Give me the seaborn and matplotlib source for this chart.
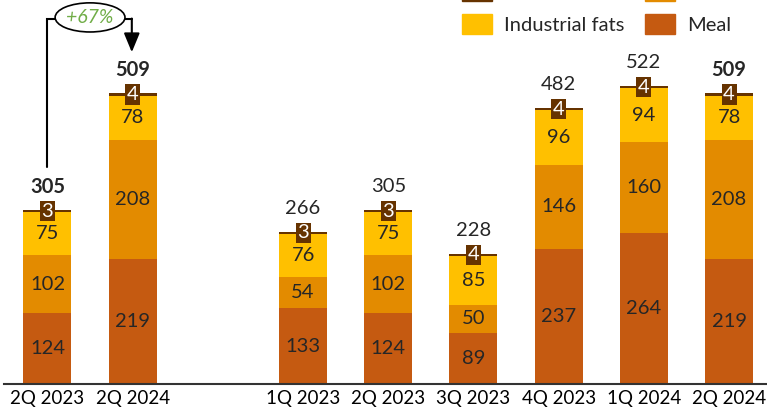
import numpy as np
import matplotlib
matplotlib.use('Agg')
import matplotlib.pyplot as plt
from matplotlib.patches import Ellipse, Patch
import seaborn as sns

# data
periods = ['2Q 2023', '2Q 2024', '1Q 2023', '2Q 2023', '3Q 2023', '4Q 2023', '1Q 2024', '2Q 2024']
positions = [0, 1, 3, 4, 5, 6, 7, 8]
meal = [124, 219, 133, 124, 89, 237, 264, 219]
oil = [102, 208, 54, 102, 50, 146, 160, 208]
industrial_fats = [75, 78, 76, 75, 85, 96, 94, 78]
other = [3, 4, 3, 3, 4, 4, 4, 4]
totals = [305, 509, 266, 305, 228, 482, 522, 509]
bold_totals = [True, True, False, False, False, False, False, True]
growth_label = '+67%'

c_meal = '#C55A11'
c_oil = '#E38B00'
c_fats = '#FFC000'
c_other = '#663300'

sns.set_style('white')
plt.rcParams['font.family'] = ['Lato', 'DejaVu Sans']
fs = 14.5

fig = plt.figure(figsize=(7.67, 4.11), dpi=100)
ax = fig.add_axes([4 / 767, 27 / 411, 763 / 767, 384 / 411])

lvl1 = np.array(meal)
lvl2 = lvl1 + np.array(oil)
lvl3 = lvl2 + np.array(industrial_fats)
lvl4 = lvl3 + np.array(other)

bw = 0.563
# stacked bars drawn as overlapping cumulative bars, tallest first
for vals, col in [(lvl4, c_other), (lvl3, c_fats), (lvl2, c_oil), (lvl1, c_meal)]:
    sns.barplot(x=positions, y=vals, native_scale=True, width=bw, color=col,
                saturation=1, linewidth=0, errorbar=None, ax=ax)

ax.set_xlim(-0.51, 8.445)
ax.set_ylim(0, 672.5)
ax.set_xticks(positions)
ax.set_xticklabels(periods, fontsize=13.5)
ax.tick_params(axis='x', length=0, pad=4, colors='black')
ax.set_yticks([])
ax.set_xlabel('')
ax.set_ylabel('')
for s in ['top', 'right', 'left']:
    ax.spines[s].set_visible(False)
ax.spines['bottom'].set_color('#333333')
ax.spines['bottom'].set_linewidth(1.5)

# segment labels
for i, x in enumerate(positions):
    ax.text(x, meal[i] / 2, str(meal[i]), ha='center', va='center', fontsize=fs)
    ax.text(x, lvl1[i] + oil[i] / 2, str(oil[i]), ha='center', va='center', fontsize=fs)
    ax.text(x, lvl2[i] + industrial_fats[i] / 2, str(industrial_fats[i]),
            ha='center', va='center', fontsize=fs)
    ax.text(x, lvl3[i] + other[i] / 2, str(other[i]), ha='center', va='center',
            fontsize=fs, color='white',
            bbox=dict(boxstyle='square,pad=0.08', fc=c_other, ec='none'))
    ax.annotate(str(totals[i]), (x, lvl4[i]), xytext=(0, 17), textcoords='offset points',
                ha='center', va='center', fontsize=fs,
                fontweight='bold' if bold_totals[i] else 'normal')

# growth bracket
y_top = 639
ax.plot([-0.005, -0.005, 0.09], [380, y_top, y_top], color='black', lw=1.5,
        solid_joinstyle='miter')
ax.plot([0.91, 0.99], [y_top, y_top], color='black', lw=1.5)
ax.annotate('', xy=(0.99, 581), xytext=(0.99, y_top + 1),
            arrowprops=dict(arrowstyle='-|>,head_length=0.58,head_width=0.24',
                            mutation_scale=20, lw=1.5, color='black',
                            shrinkA=0, shrinkB=0))
ax.add_patch(Ellipse((0.5, 642), 0.82, 51, fc='white', ec='black', lw=1.2, zorder=5))
ax.text(0.5, 642, growth_label, ha='center', va='center', fontsize=14,
        style='italic', color='#70AD47', zorder=6)

handles = [Patch(color=c_other), Patch(color=c_fats), Patch(color=c_oil), Patch(color=c_meal)]
labels = ['Other', 'Industrial fats', 'Oil', 'Meal']
fig.legend(handles, labels, ncol=2, loc='upper left', frameon=False,
           bbox_to_anchor=(462 / 767, 1 + 19 / 411), borderaxespad=0, borderpad=0,
           fontsize=fs, handlelength=1.49, handleheight=1.14, handletextpad=0.6,
           labelspacing=0.65, columnspacing=1.0)

fig.savefig('out.png', dpi=100)
